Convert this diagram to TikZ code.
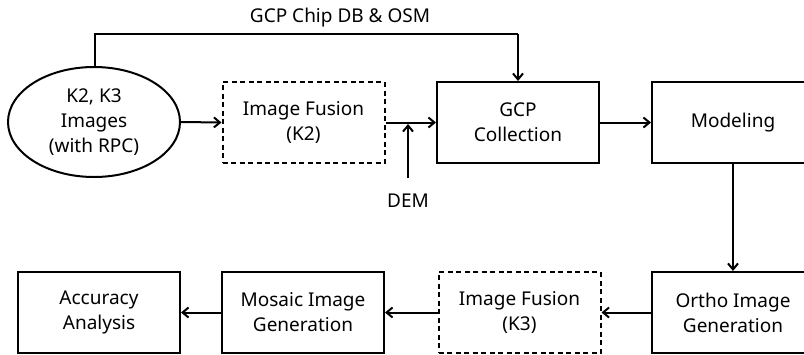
\documentclass[tikz,border=0pt]{standalone}
\usepackage{fontspec}
\setmainfont{Noto Sans}
\usetikzlibrary{arrows.meta,shapes.geometric}
\begin{document}
\begin{tikzpicture}[x=1pt,y=-1pt,
  every node/.style={font=\fontsize{19}{25}\selectfont, align=center},
  box/.style={draw, line width=2pt, minimum width=162pt, minimum height=81pt, inner sep=0pt},
  dbox/.style={box, dash pattern=on 5pt off 3.5pt},
  arr/.style={line width=2pt, -{Straight Barb[length=6pt,width=10pt,line width=2pt]}},
  ln/.style={line width=2pt}]
\useasboundingbox (0,0) rectangle (804,354);
\clip (0,0) rectangle (804,354);
\node[draw, ellipse, line width=2pt, minimum width=172pt, minimum height=110pt, inner sep=0pt] (img) at (94,122) {K2, K3\\Images\\(with RPC)};
\node[dbox] (if2) at (303.5,122.5) {Image Fusion\\(K2)};
\node[box] (gcp) at (518,122.5) {GCP\\Collection};
\node[box] (mod) at (733,122.5) {Modeling};
\node[box] (ortho) at (733,312.5) {Ortho Image\\Generation};
\node[dbox] (if3) at (519.5,312.5) {Image Fusion\\(K3)};
\node[box] (mos) at (303,312.5) {Mosaic Image\\Generation};
\node[box] (acc) at (99,312.5) {Accuracy\\Analysis};
\coordinate (tl) at (95,34);
\coordinate (tr) at (518,34);
\coordinate (dem0) at (408,178);
\coordinate (dem1) at (408,124);
\node (demlbl) at (408,201) {DEM};
\node (gcplbl) at (340,18) {GCP Chip DB \& OSM};
\draw[ln] (img.north -| tl) -- (tl) -- (tr);
\draw[arr] (tr) -- (gcp.north);
\draw[arr] (img.east) -- (if2.west);
\draw[arr] (if2.east) -- (gcp.west);
\draw[arr] (dem0) -- (dem1);
\draw[arr] (gcp.east) -- (mod.west);
\draw[arr] (mod.south) -- (ortho.north);
\draw[arr] (ortho.west) -- (if3.east);
\draw[arr] (if3.west) -- (mos.east);
\draw[arr] (mos.west) -- (acc.east);
\end{tikzpicture}
\end{document}
